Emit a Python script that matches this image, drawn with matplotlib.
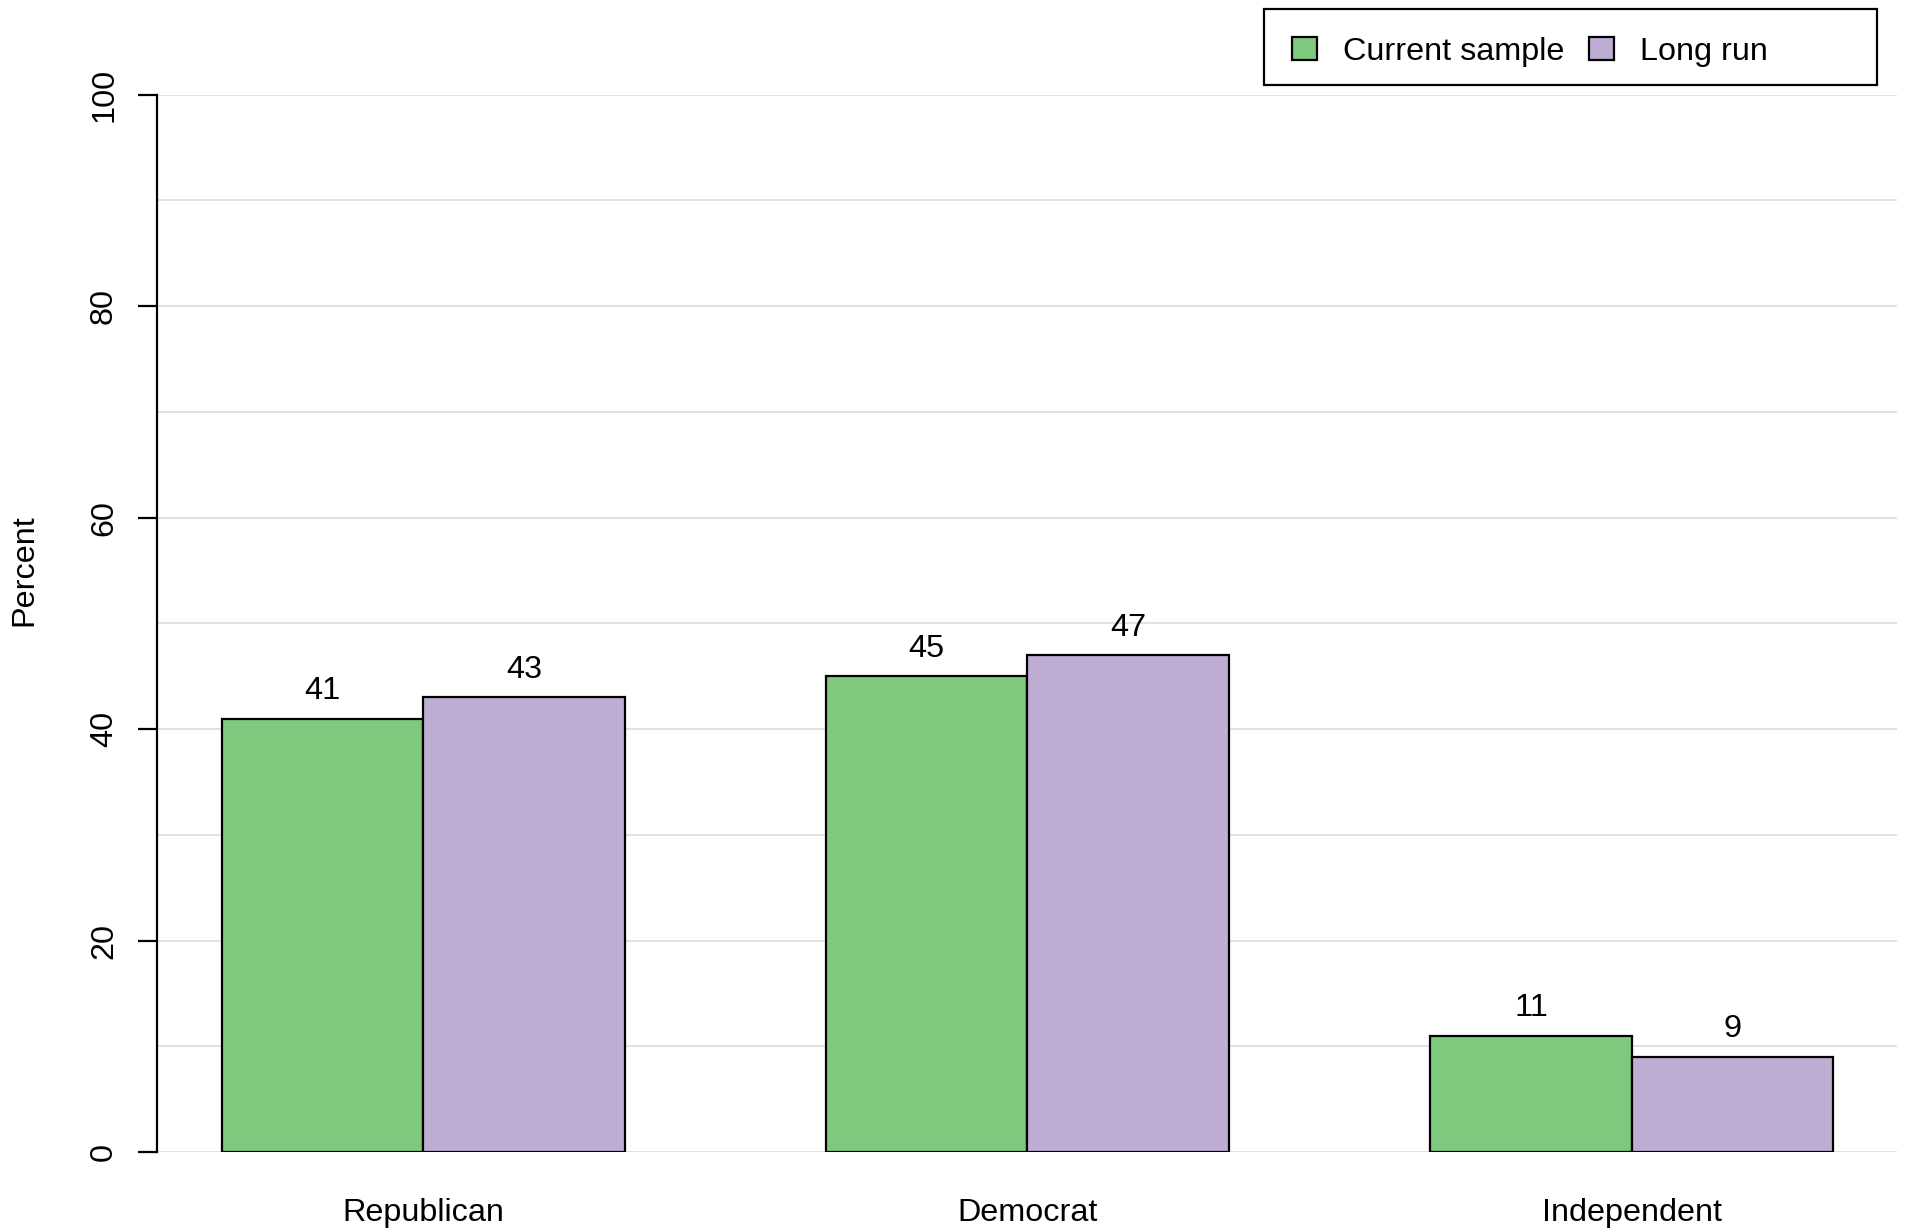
import numpy as np
import matplotlib
matplotlib.use("Agg")
from matplotlib import pyplot as plt
from matplotlib.patches import Rectangle

plt.rcParams['font.family'] = ['Liberation Sans', 'DejaVu Sans']

# data
parties = ["Republican", "Democrat", "Independent"]
current_sample = [41, 45, 11]
long_run = [43, 47, 9]
series_names = ["Current sample", "Long run"]
colors = ["#7FC97F", "#BEAED4"]

W, H = 1915, 1230
fig = plt.figure(figsize=(W / 100, H / 100), dpi=100)
# axes box in pixels: x 157.5..1897.5, y 94.7..1152
ax = fig.add_axes([157.5 / W, (H - 1152) / H, (1897.5 - 157.5) / W, (1152 - 94.7) / H])

fs = 23.3
centers = np.arange(len(parties)) * 3 + 2  # R barplot style positions
ax.set_xlim(0.68, 9.32)
ax.set_ylim(0, 100)

# light gridlines every 10
for g in range(0, 101, 10):
    ax.axhline(g, color="#d9d9d9", lw=1.1, zorder=0)

for i, (vals, col) in enumerate(zip([current_sample, long_run], colors)):
    xs = centers - 0.5 + i
    ax.bar(xs, vals, width=1.0, color=col, edgecolor="black", linewidth=1.6, zorder=2)
    for x, v in zip(xs, vals):
        ax.annotate(str(v), (x, v), xytext=(0, 14), textcoords="offset points",
                    ha="center", va="baseline", fontsize=fs)

for s in ["top", "right", "bottom"]:
    ax.spines[s].set_visible(False)
ax.spines["left"].set_linewidth(1.6)

ax.set_yticks(range(0, 101, 20))
ax.set_yticklabels([str(t) for t in range(0, 101, 20)], rotation=90, va="center", fontsize=fs)
ax.tick_params(axis="y", length=13.7, width=1.6, pad=14)

ax.set_xticks(centers)
ax.set_xticklabels(parties, fontsize=fs)
ax.tick_params(axis="x", length=0, pad=33)

fig.text(24 / W, 1 - 570 / H, "Percent", rotation=90, ha="center", va="center", fontsize=fs)

# legend box drawn like R's
fig.patches.append(Rectangle((1264 / W, 1 - 85 / H), (1877 - 1264) / W, (85 - 9) / H,
                             transform=fig.transFigure, fill=False, edgecolor="black", lw=1.6))
handles = [Rectangle((0, 0), 1, 1, facecolor=c, edgecolor="black", lw=1.6) for c in colors]
fig.legend(handles, series_names, loc="center left", bbox_to_anchor=(1292 / W, 1 - 52 / H),
           ncol=2, frameon=False, fontsize=fs, handlelength=0.78, handleheight=0.72,
           handletextpad=0.8, columnspacing=0.75, borderpad=0, borderaxespad=0)

fig.savefig("out.png", dpi=100)
